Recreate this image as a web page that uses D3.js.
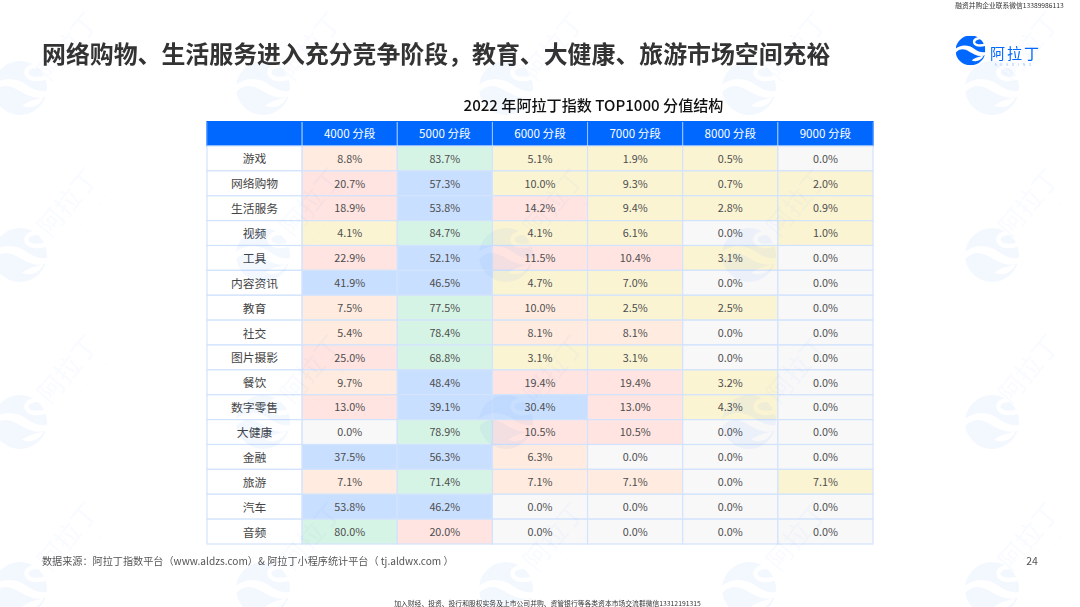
<!DOCTYPE html>
<html lang="zh">
<head>
<meta charset="utf-8">
<style>
html,body{margin:0;padding:0;background:#fff;overflow:hidden}
svg{display:block}
text{font-family:"Noto Sans CJK SC","Noto Sans",sans-serif}
</style>
<script src="https://cdn.jsdelivr.net/npm/d3@7/dist/d3.min.js"></script>
</head>
<body>
<script>
const pageTitle = "网络购物、生活服务进入充分竞争阶段，教育、大健康、旅游市场空间充裕";
const tableTitle = "2022 年阿拉丁指数 TOP1000 分值结构";
const columns = ["4000 分段","5000 分段","6000 分段","7000 分段","8000 分段","9000 分段"];
const categories = ["游戏","网络购物","生活服务","视频","工具","内容资讯","教育","社交","图片摄影","餐饮","数字零售","大健康","金融","旅游","汽车","音频"];
const s4000 = [8.8,20.7,18.9,4.1,22.9,41.9,7.5,5.4,25.0,9.7,13.0,0.0,37.5,7.1,53.8,80.0];
const s5000 = [83.7,57.3,53.8,84.7,52.1,46.5,77.5,78.4,68.8,48.4,39.1,78.9,56.3,71.4,46.2,20.0];
const s6000 = [5.1,10.0,14.2,4.1,11.5,4.7,10.0,8.1,3.1,19.4,30.4,10.5,6.3,7.1,0.0,0.0];
const s7000 = [1.9,9.3,9.4,6.1,10.4,7.0,2.5,8.1,3.1,19.4,13.0,10.5,0.0,7.1,0.0,0.0];
const s8000 = [0.5,0.7,2.8,0.0,3.1,0.0,2.5,0.0,0.0,3.2,4.3,0.0,0.0,0.0,0.0,0.0];
const s9000 = [0.0,2.0,0.9,1.0,0.0,0.0,0.0,0.0,0.0,0.0,0.0,0.0,0.0,7.1,0.0,0.0];
const seriesValues = [s4000,s5000,s6000,s7000,s8000,s9000];
// tier of each cell, one string per row
const tiers = ["pnyyyg","rbyyyy","rbryyy","ynyygy","rbrryg","bbyygg","pnpyyg","pnppgg","rnyygg","pbrryg","rbbryg","gnrrgg","bbpggg","pnppgy","bbgggg","nrgggg"];
const tierKeys = ["g","y","p","r","b","n"];
const tierColors = ["#f8f8f9","#fbf4d3","#ffebdf","#ffe4e1","#c9dfff","#d6f4e5"];
const sourceNote = "数据来源：阿拉丁指数平台（www.aldzs.com）& 阿拉丁小程序统计平台（ tj.aldwx.com ）";
const pageNumber = "24";
const topNote = "融资并购企业联系微信13389986113";
const bottomNote = "加入财经、投资、投行和股权实务及上市公司并购、资管银行等各类资本市场交流群微信13312191315";

const W = 1080, H = 607, BLUE = "#0068ff", GRID = "#d2e3fd";
const svg = d3.select("body").append("svg").attr("width", W).attr("height", H).attr("viewBox", `0 0 ${W} ${H}`);
const fill = d3.scaleOrdinal(tierKeys, tierColors);

// logo symbol
const defs = svg.append("defs");
const mask = defs.append("mask").attr("id","waves").attr("maskUnits","userSpaceOnUse")
  .attr("x",-50).attr("y",-50).attr("width",100).attr("height",100);
mask.append("rect").attr("x",-50).attr("y",-50).attr("width",100).attr("height",100).attr("fill","#fff");
mask.append("path").attr("fill","#000")
  .attr("d","M-52,-4 C-32,-22 -6,-19 12,-6 C25,4 38,8 52,5 L50,15 C30,24 10,12 -5,3 C-20,-6 -36,-8 -50,8 Z");
mask.append("path").attr("fill","#000")
  .attr("d","M4,33 C16,22 32,22 44,16 C38,32 20,40 4,33 Z");
mask.append("path").attr("fill","none").attr("stroke","#000").attr("stroke-width",8)
  .attr("d","M50,-36 C32,-46 10,-40 12,-27 C14,-16 32,-14 50,-20");
defs.append("circle").attr("id","logoDisc").attr("r",50).attr("mask","url(#waves)");

// header and body table
const colNames = ["", ...columns];
const x = d3.scaleBand().domain(colNames.map((d,i)=>i)).range([207,873]);
const y = d3.scaleBand().domain(categories).range([146,544]);
const headY = 121.5, headH = 24.5;

const rows = [];
categories.forEach((c,r)=>seriesValues.forEach((s,k)=>rows.push({c,k,v:s[r],t:tiers[r][k]})));

const table = svg.append("g");
table.selectAll("rect.head").data(colNames).join("rect").attr("class","head")
  .attr("x",(d,i)=>x(i)).attr("y",headY).attr("width",x.bandwidth()).attr("height",headH)
  .attr("fill",BLUE).attr("stroke","#9cc4ff").attr("stroke-width",1);
table.selectAll("rect.head2").data([0]).join("rect")
  .attr("x",207).attr("y",headY).attr("width",666).attr("height",headH)
  .attr("fill","none").attr("stroke",BLUE).attr("stroke-width",1);
table.selectAll("text.head").data(columns).join("text").attr("class","head")
  .attr("x",(d,i)=>x(i+1)+x.bandwidth()/2).attr("y",headY+headH/2+4.2)
  .attr("text-anchor","middle").attr("font-size",11.6).attr("fill","#fff").text(d=>d);

table.selectAll("rect.lab").data(categories).join("rect").attr("class","lab")
  .attr("x",x(0)).attr("y",d=>y(d)).attr("width",x.bandwidth()).attr("height",y.bandwidth())
  .attr("fill","#fff").attr("stroke",GRID).attr("stroke-width",1.2);
table.selectAll("text.lab").data(categories).join("text").attr("class","lab")
  .attr("x",x(0)+x.bandwidth()/2).attr("y",d=>y(d)+y.bandwidth()/2+5)
  .attr("text-anchor","middle").attr("font-size",11.8).attr("fill","#444").text(d=>d);

table.selectAll("rect.cell").data(rows).join("rect").attr("class","cell")
  .attr("x",d=>x(d.k+1)).attr("y",d=>y(d.c)).attr("width",x.bandwidth()).attr("height",y.bandwidth())
  .attr("fill",d=>fill(d.t)).attr("stroke",GRID).attr("stroke-width",1.2);
table.selectAll("text.cell").data(rows).join("text").attr("class","cell")
  .attr("x",d=>x(d.k+1)+x.bandwidth()/2).attr("y",d=>y(d.c)+y.bandwidth()/2+4.2)
  .attr("text-anchor","middle").attr("font-size",10.8).attr("fill","#4d4d4d").text(d=>d.v.toFixed(1)+"%");

// watermark pattern over everything
const wmX = d3.range(5).map(i=>20+i*243), wmY = d3.range(4).map(i=>88+i*167);
const wm = svg.append("g").attr("fill",BLUE).attr("opacity",0.05).attr("pointer-events","none");
wmY.forEach(py=>wmX.forEach(px=>{
  wm.append("use").attr("href","#logoDisc").attr("transform",`translate(${px},${py}) scale(0.54)`);
}));
const wmT = svg.append("g").attr("fill",BLUE).attr("opacity",0.03).attr("pointer-events","none");
[-1,0,1,2].forEach(j=>wmX.forEach(px=>{
  const py = 200 + j*167 + (j < 0 ? 11 : 0), tx = Math.min(px + 55, 1036);
  wmT.append("text").attr("transform",`translate(${tx},${py+8}) rotate(-50)`)
    .attr("text-anchor","middle").attr("font-size",26).text("阿拉丁");
  wmT.append("text").attr("transform",`translate(${tx+16},${py+16}) rotate(-50)`)
    .attr("text-anchor","middle").attr("font-size",4).attr("letter-spacing",7).text("ALADING");
}));

// titles and notes
const txt = (tx,ty,s,size,col,anchor,weight) =>
  svg.append("text").attr("x",tx).attr("y",ty).attr("font-size",size).attr("fill",col)
    .attr("text-anchor",anchor||"start").attr("font-weight",weight||400).text(s);
txt(42,63,pageTitle,23.9,"#333","start",700);
txt(593.5,111,tableTitle,15.1,"#111","middle",500);
txt(42,565,sourceNote,10.15,"#555");
txt(1032,565,pageNumber,10.5,"#555","middle");
txt(1009.5,7.5,topNote,6.75,"#333","middle");
txt(547.5,605.5,bottomNote,6.8,"#333","middle");

// brand mark
svg.append("use").attr("href","#logoDisc").attr("fill",BLUE).attr("transform","translate(970.5,50.5) scale(0.3)");
txt(1015.5,58.5,"阿拉丁",15,BLUE,"middle",400).attr("letter-spacing",2);
txt(1015,66,"ALADING",3,"#7fb3ff","middle").attr("letter-spacing",4);
</script>
</body>
</html>
